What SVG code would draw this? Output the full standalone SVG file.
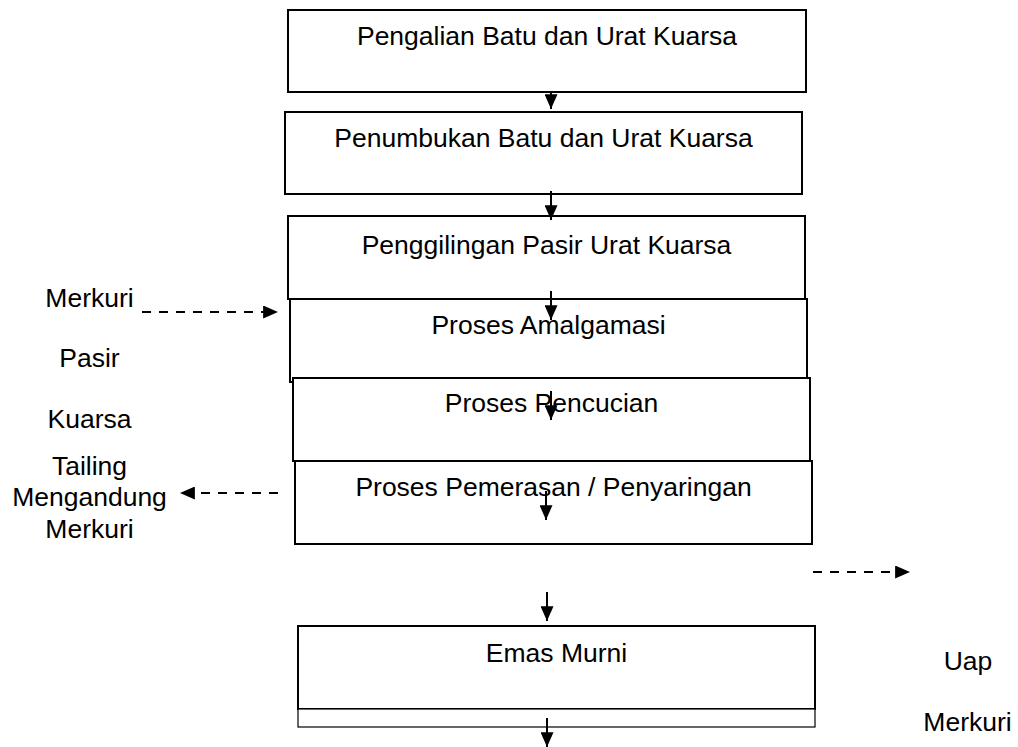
<svg xmlns="http://www.w3.org/2000/svg" width="1018" height="747" viewBox="0 0 1018 747">
<style>
.box{fill:#fff;stroke:#000;stroke-width:2}
.thin{fill:#fff;stroke:#000;stroke-width:1.2}
.t{font-family:"Liberation Sans",Arial,sans-serif;font-size:26.5px;fill:#000;text-anchor:middle}
.c{stroke:#000;stroke-width:2;fill:none}
.d{stroke:#000;stroke-width:2;fill:none;stroke-dasharray:9 8}
</style>
<defs>
<marker id="arr" viewBox="0 0 16 14" refX="16" refY="7" markerWidth="16" markerHeight="13" markerUnits="userSpaceOnUse" orient="auto">
<path d="M0,0 L16,7 L0,14 z" fill="#000"/>
</marker>
</defs>
<g id="n1"><rect class="box" x="288" y="10" width="518" height="82"/><text class="t" x="547" y="45">Pengalian Batu dan Urat Kuarsa</text></g>
<g id="n2"><rect class="box" x="285" y="112" width="517" height="82"/><text class="t" x="543.5" y="147">Penumbukan Batu dan Urat Kuarsa</text></g>
<g id="n3"><rect class="box" x="288" y="216" width="517" height="83"/><text class="t" x="546.5" y="254">Penggilingan Pasir Urat Kuarsa</text></g>
<g id="n4"><rect class="box" x="290" y="299" width="517" height="83"/><text class="t" x="548.5" y="334">Proses Amalgamasi</text></g>
<g id="n5"><rect class="box" x="293" y="378" width="517" height="83"/><text class="t" x="551.5" y="412">Proses Pencucian</text></g>
<g id="n6"><rect class="box" x="295" y="461" width="517" height="83"/><text class="t" x="553.5" y="496">Proses Pemerasan / Penyaringan</text></g>
<g id="n7"><rect class="box" x="298" y="626" width="517" height="83"/><rect class="thin" x="298" y="709" width="517" height="18"/><text class="t" x="556.5" y="662">Emas Murni</text></g>
<g id="l1"><text class="t" x="89.5" y="307">Merkuri</text></g>
<g id="l2"><text class="t" x="89.5" y="367">Pasir</text></g>
<g id="l3"><text class="t" x="89.5" y="428">Kuarsa</text></g>
<g id="l4"><text class="t" x="89.5" y="475">Tailing</text><text class="t" x="89.5" y="506">Mengandung</text><text class="t" x="89.5" y="538">Merkuri</text></g>
<g id="r1"><text class="t" x="968" y="670">Uap</text></g>
<g id="r2"><text class="t" x="967.5" y="731">Merkuri</text></g>
<g id="connectors">
<line class="c" x1="551" y1="92" x2="551" y2="109" marker-end="url(#arr)"/>
<line class="c" x1="551" y1="191" x2="551" y2="220" marker-end="url(#arr)"/>
<line class="c" x1="551" y1="291" x2="551" y2="320" marker-end="url(#arr)"/>
<line class="c" x1="551" y1="391" x2="551" y2="420" marker-end="url(#arr)"/>
<line class="c" x1="546" y1="491" x2="546" y2="520" marker-end="url(#arr)"/>
<line class="c" x1="547" y1="592" x2="547" y2="621" marker-end="url(#arr)"/>
<line class="c" x1="547" y1="718" x2="547" y2="747" marker-end="url(#arr)"/>
<line class="d" x1="142" y1="312" x2="278" y2="312" marker-end="url(#arr)"/>
<line class="d" x1="278" y1="493" x2="180" y2="493" marker-end="url(#arr)"/>
<line class="d" x1="813" y1="572" x2="910" y2="572" marker-end="url(#arr)"/>
</g>
</svg>
